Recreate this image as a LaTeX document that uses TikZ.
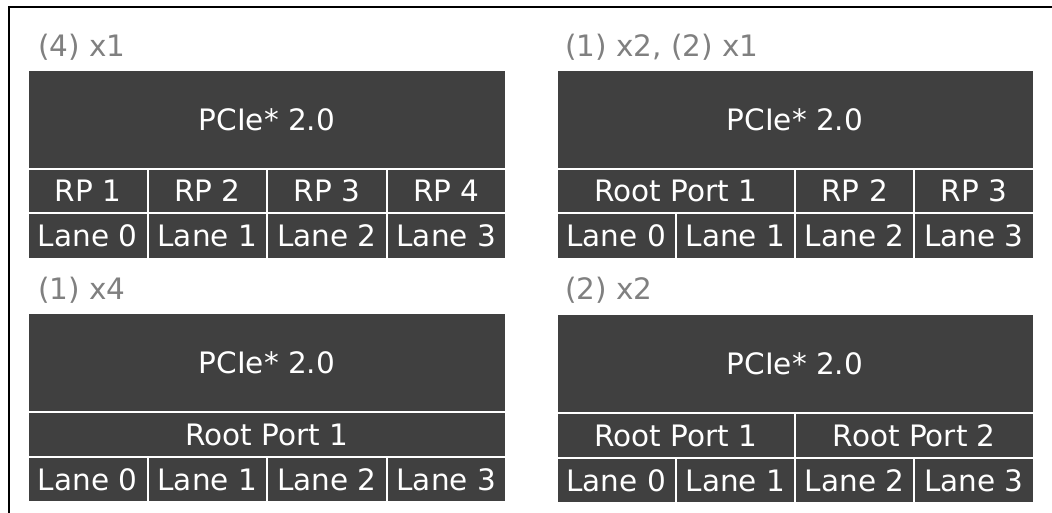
\documentclass[tikz,border=0pt]{standalone}
\usepackage{fontspec}
\setmainfont{DejaVu Sans}
\definecolor{cellgray}{HTML}{404040}
\definecolor{titlegray}{HTML}{808080}
\begin{document}
\begin{tikzpicture}[x=1pt,y=-1pt,
  cell/.style={fill=cellgray, draw=white, line width=2pt, text=white,
    inner sep=0pt, outer sep=0pt, text height=21.5pt, text depth=0pt,
    font=\fontsize{29.5}{31}\selectfont},
  grouptitle/.style={anchor=base west, inner sep=0pt, text=titlegray,
    font=\fontsize{29.5}{31}\selectfont},
  frameline/.style={draw=black, line width=2pt}]
\useasboundingbox (0,0) rectangle (1052,513);
% frame
\draw[frameline] (1053,7) -- (9,7) -- (9,514);

% ---------- top left: (4) x1 ----------
\node[grouptitle] (tlt) at (38,56.5) {(4) x1};
\node[cell, minimum width=478pt, minimum height=99.3pt] (tlp) at (267,119.35) {PCIe* 2.0};
\node[cell, minimum width=119.5pt, minimum height=44.5pt] (tlr1) at (87.75,191.25) {RP 1};
\node[cell, minimum width=119.5pt, minimum height=44.5pt] (tlr2) at (207.25,191.25) {RP 2};
\node[cell, minimum width=119.5pt, minimum height=44.5pt] (tlr3) at (326.75,191.25) {RP 3};
\node[cell, minimum width=119.5pt, minimum height=44.5pt] (tlr4) at (446.25,191.25) {RP 4};
\node[cell, minimum width=119.5pt, minimum height=45.5pt] (tll0) at (87.75,236.25) {Lane 0};
\node[cell, minimum width=119.5pt, minimum height=45.5pt] (tll1) at (207.25,236.25) {Lane 1};
\node[cell, minimum width=119.5pt, minimum height=45.5pt] (tll2) at (326.75,236.25) {Lane 2};
\node[cell, minimum width=119.5pt, minimum height=45.5pt] (tll3) at (446.25,236.25) {Lane 3};

% ---------- top right: (1) x2, (2) x1 ----------
\node[grouptitle] (trt) at (565,56.5) {(1) x2, (2) x1};
\node[cell, minimum width=477pt, minimum height=99.3pt] (trp) at (795,119.35) {PCIe* 2.0};
\node[cell, minimum width=238.5pt, minimum height=44.5pt] (trr1) at (675.75,191.25) {Root Port 1};
\node[cell, minimum width=119.25pt, minimum height=44.5pt] (trr2) at (854.625,191.25) {RP 2};
\node[cell, minimum width=119.25pt, minimum height=44.5pt] (trr3) at (973.875,191.25) {RP 3};
\node[cell, minimum width=119.25pt, minimum height=45.5pt] (trl0) at (616.125,236.25) {Lane 0};
\node[cell, minimum width=119.25pt, minimum height=45.5pt] (trl1) at (735.375,236.25) {Lane 1};
\node[cell, minimum width=119.25pt, minimum height=45.5pt] (trl2) at (854.625,236.25) {Lane 2};
\node[cell, minimum width=119.25pt, minimum height=45.5pt] (trl3) at (973.875,236.25) {Lane 3};

% ---------- bottom left: (1) x4 ----------
\node[grouptitle] (blt) at (38,299.5) {(1) x4};
\node[cell, minimum width=478pt, minimum height=99.3pt] (blp) at (267,362.35) {PCIe* 2.0};
\node[cell, minimum width=478pt, minimum height=44.5pt] (blr1) at (267,434.25) {Root Port 1};
\node[cell, minimum width=119.5pt, minimum height=45.5pt] (bll0) at (87.75,479.25) {Lane 0};
\node[cell, minimum width=119.5pt, minimum height=45.5pt] (bll1) at (207.25,479.25) {Lane 1};
\node[cell, minimum width=119.5pt, minimum height=45.5pt] (bll2) at (326.75,479.25) {Lane 2};
\node[cell, minimum width=119.5pt, minimum height=45.5pt] (bll3) at (446.25,479.25) {Lane 3};

% ---------- bottom right: (2) x2 ----------
\node[grouptitle] (brt) at (565,299.5) {(2) x2};
\node[cell, minimum width=477pt, minimum height=99.3pt] (brp) at (795,363.35) {PCIe* 2.0};
\node[cell, minimum width=238.5pt, minimum height=44.5pt] (brr1) at (675.75,435.25) {Root Port 1};
\node[cell, minimum width=238.5pt, minimum height=44.5pt] (brr2) at (914.25,435.25) {Root Port 2};
\node[cell, minimum width=119.25pt, minimum height=45.5pt] (brl0) at (616.125,480.25) {Lane 0};
\node[cell, minimum width=119.25pt, minimum height=45.5pt] (brl1) at (735.375,480.25) {Lane 1};
\node[cell, minimum width=119.25pt, minimum height=45.5pt] (brl2) at (854.625,480.25) {Lane 2};
\node[cell, minimum width=119.25pt, minimum height=45.5pt] (brl3) at (973.875,480.25) {Lane 3};
\end{tikzpicture}
\end{document}
